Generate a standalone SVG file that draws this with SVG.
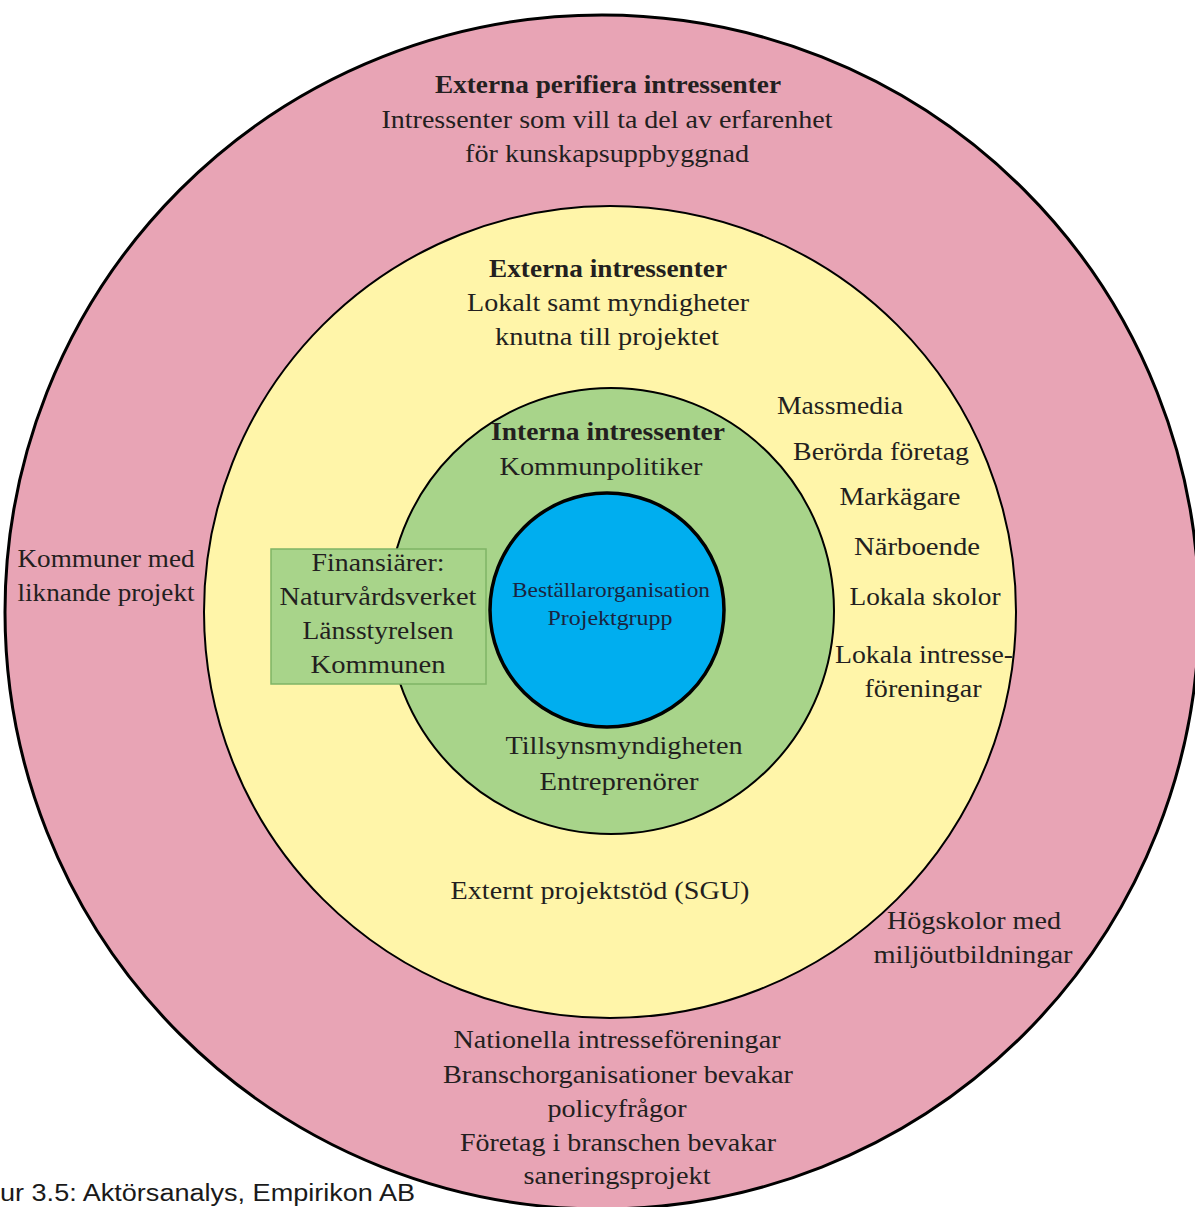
<svg xmlns="http://www.w3.org/2000/svg" width="1195" height="1207" viewBox="0 0 1195 1207">
<style>
.t{font-family:"Liberation Serif","Times New Roman",serif;font-size:25px;fill:#231f20;text-anchor:middle}
.b{font-weight:bold}
.s{font-size:21px;fill:#1a2440}
.cap{font-family:"Liberation Sans",Arial,sans-serif;font-size:23px;fill:#1a1a1a}
</style>
<rect width="1195" height="1207" fill="#ffffff"/>
<g id="outer">
<circle cx="602" cy="612" r="597" fill="#e8a4b5" stroke="#000" stroke-width="3"/>
<text class="t b" x="608" y="93" textLength="346" lengthAdjust="spacingAndGlyphs">Externa perifiera intressenter</text>
<text class="t" x="607" y="128" textLength="451" lengthAdjust="spacingAndGlyphs">Intressenter som vill ta del av erfarenhet</text>
<text class="t" x="607" y="162" textLength="284" lengthAdjust="spacingAndGlyphs">för kunskapsuppbyggnad</text>
<text class="t" x="106" y="567" textLength="177" lengthAdjust="spacingAndGlyphs">Kommuner med</text>
<text class="t" x="106" y="601" textLength="177" lengthAdjust="spacingAndGlyphs">liknande projekt</text>
<text class="t" x="974" y="929" textLength="174" lengthAdjust="spacingAndGlyphs">Högskolor med</text>
<text class="t" x="973" y="963" textLength="199" lengthAdjust="spacingAndGlyphs">miljöutbildningar</text>
<text class="t" x="617" y="1048" textLength="327" lengthAdjust="spacingAndGlyphs">Nationella intresseföreningar</text>
<text class="t" x="618" y="1083" textLength="350" lengthAdjust="spacingAndGlyphs">Branschorganisationer bevakar</text>
<text class="t" x="617" y="1117" textLength="139" lengthAdjust="spacingAndGlyphs">policyfrågor</text>
<text class="t" x="618" y="1151" textLength="316" lengthAdjust="spacingAndGlyphs">Företag i branschen bevakar</text>
<text class="t" x="617" y="1184" textLength="187" lengthAdjust="spacingAndGlyphs">saneringsprojekt</text>
</g>
<g id="external">
<circle cx="610" cy="612" r="406" fill="#fff5a9" stroke="#000" stroke-width="2"/>
<text class="t b" x="608" y="277" textLength="238" lengthAdjust="spacingAndGlyphs">Externa intressenter</text>
<text class="t" x="608" y="311" textLength="282" lengthAdjust="spacingAndGlyphs">Lokalt samt myndigheter</text>
<text class="t" x="607" y="345" textLength="224" lengthAdjust="spacingAndGlyphs">knutna till projektet</text>
<text class="t" x="840" y="414" textLength="126" lengthAdjust="spacingAndGlyphs">Massmedia</text>
<text class="t" x="881" y="460" textLength="176" lengthAdjust="spacingAndGlyphs">Berörda företag</text>
<text class="t" x="900" y="505" textLength="121" lengthAdjust="spacingAndGlyphs">Markägare</text>
<text class="t" x="917" y="555" textLength="126" lengthAdjust="spacingAndGlyphs">Närboende</text>
<text class="t" x="925" y="605" textLength="151" lengthAdjust="spacingAndGlyphs">Lokala skolor</text>
<text class="t" x="924" y="663" textLength="178" lengthAdjust="spacingAndGlyphs">Lokala intresse-</text>
<text class="t" x="923" y="697" textLength="117" lengthAdjust="spacingAndGlyphs">föreningar</text>
<text class="t" x="600" y="899" textLength="299" lengthAdjust="spacingAndGlyphs">Externt projektstöd (SGU)</text>
</g>
<g id="internal">
<circle cx="611" cy="611" r="223" fill="#a8d48a" stroke="#000" stroke-width="2"/>
<text class="t b" x="608" y="440" textLength="234" lengthAdjust="spacingAndGlyphs">Interna intressenter</text>
<text class="t" x="601" y="475" textLength="203" lengthAdjust="spacingAndGlyphs">Kommunpolitiker</text>
<text class="t" x="624" y="754" textLength="237" lengthAdjust="spacingAndGlyphs">Tillsynsmyndigheten</text>
<text class="t" x="619" y="790" textLength="159" lengthAdjust="spacingAndGlyphs">Entreprenörer</text>
</g>
<g id="finansiarer">
<rect x="271" y="549" width="215" height="135" fill="#a8d48a" stroke="#7fb466" stroke-width="1.5"/>
<text class="t" x="378" y="571" textLength="133" lengthAdjust="spacingAndGlyphs">Finansiärer:</text>
<text class="t" x="378" y="605" textLength="197" lengthAdjust="spacingAndGlyphs">Naturvårdsverket</text>
<text class="t" x="378" y="639" textLength="151" lengthAdjust="spacingAndGlyphs">Länsstyrelsen</text>
<text class="t" x="378" y="673" textLength="135" lengthAdjust="spacingAndGlyphs">Kommunen</text>
</g>
<g id="core">
<circle cx="607" cy="610" r="117" fill="#00aeef" stroke="#000" stroke-width="3.5"/>
<text class="t s" x="611" y="597" textLength="198" lengthAdjust="spacingAndGlyphs">Beställarorganisation</text>
<text class="t s" x="610" y="625" textLength="125" lengthAdjust="spacingAndGlyphs">Projektgrupp</text>
</g>
<g id="connectors"></g>
<text class="cap" x="0" y="1201" textLength="415" lengthAdjust="spacingAndGlyphs">ur 3.5: Aktörsanalys, Empirikon AB</text>
</svg>
